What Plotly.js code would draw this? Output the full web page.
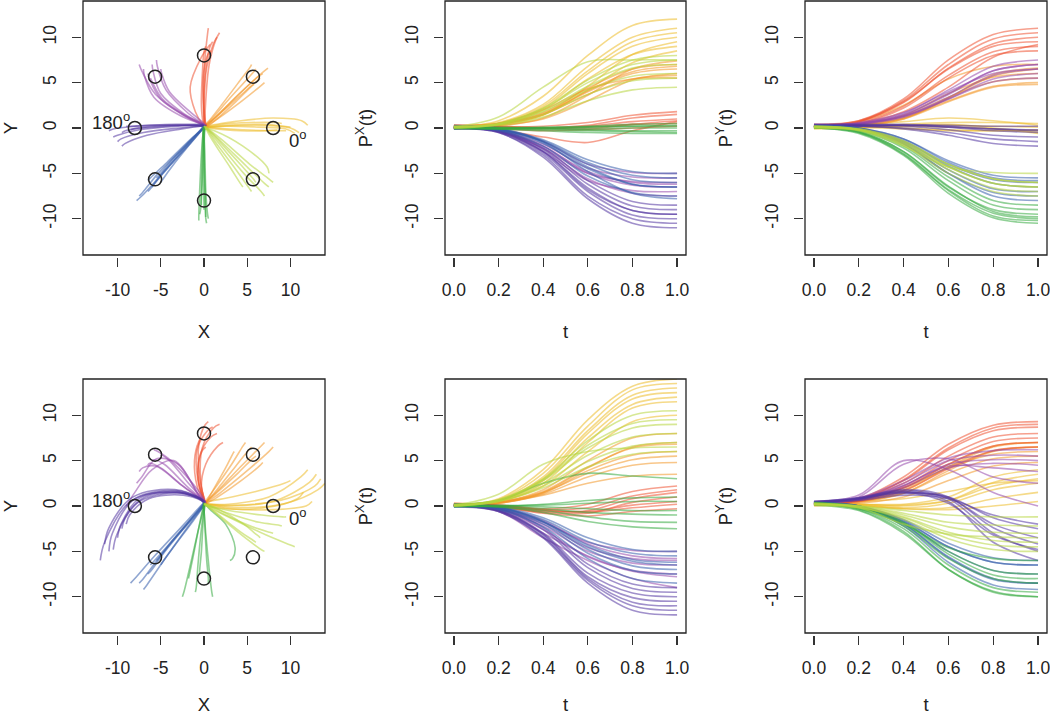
<!DOCTYPE html>
<html>
<head>
<meta charset="utf-8">
<script src="https://cdn.plot.ly/plotly-3.0.1.min.js"></script>
<style>html,body{margin:0;padding:0;background:#fff;}#chart{width:1050px;height:715px;}</style>
</head>
<body>
<div id="chart"></div>
<script>
// ---------- data ----------
const tSamples = [0, 0.2, 0.4, 0.6, 0.8, 1.0];
const targetAngles = [0, 45, 90, 135, 180, 225, 270, 315];
const targetX = [8, 5.66, 0, -5.66, -8, -5.66, 0, 5.66];
const targetY = [0, 5.66, 8, 5.66, 0, -5.66, -8, -5.66];
const targetColors = ['236,188,40', '243,152,40', '238,82,50', '150,72,172', '82,52,160', '52,92,172', '52,170,64', '182,214,62'];
const xyTicks = [-10, -5, 0, 5, 10];
const tTicks = [0, 0.2, 0.4, 0.6, 0.8, 1.0];
const tTickLabels = ['0.0', '0.2', '0.4', '0.6', '0.8', '1.0'];

// top row: trajectories per target (Px and Py sampled at tSamples)
const top_000_px = [[0.1,0.8,3.5,8.0,11.3,12.0],[0.2,0.6,2.6,6.8,10.0,11.0],[0.0,0.4,2.2,6.0,9.0,10.0],[0.3,0.4,1.5,4.6,8.1,9.5],[-0.1,0.3,2.0,5.4,8.1,9.0],[0.2,0.3,1.4,4.2,7.2,8.5],[0.0,0.5,2.4,6.3,9.5,10.5]];
const top_000_py = [[0.2,0.3,0.7,1.1,0.8,0.3],[0.0,0.1,0.3,0.4,0.0,-0.5],[0.1,0.1,0.2,0.3,0.2,0.1],[0.3,0.2,0.0,-0.2,-0.3,-0.3],[0.0,0.1,0.4,0.6,0.6,0.5],[0.2,0.1,-0.1,-0.3,-0.3,-0.2],[-0.1,0.0,0.2,0.1,-0.1,-0.6]];
const top_045_px = [[0.1,0.4,1.5,4.0,6.0,6.5],[0.2,0.3,1.0,3.0,5.3,6.0],[0.0,0.4,1.7,4.4,6.5,7.0],[0.1,0.5,2.0,4.3,5.4,5.5],[0.2,0.5,1.6,4.1,6.2,6.8],[0.0,0.2,1.1,3.6,6.5,7.4],[0.3,0.5,1.5,3.7,5.4,5.8]];
const top_045_py = [[0.2,0.4,1.3,3.4,5.1,5.5],[0.3,0.4,1.1,3.3,5.7,6.5],[0.2,0.3,1.1,3.0,4.6,5.0],[0.3,0.7,2.5,5.4,6.8,7.0],[0.1,0.4,1.4,3.8,5.6,6.0],[0.2,0.3,1.0,3.3,5.9,6.6],[0.0,0.2,1.0,2.9,4.5,4.8]];
const top_090_px = [[0.0,0.0,-0.1,0.1,0.4,0.5],[0.1,0.0,0.0,0.3,1.1,1.5],[0.2,0.1,0.0,0.2,0.7,1.0],[0.0,-0.1,-0.3,-0.2,0.0,0.2],[0.1,0.1,0.2,0.6,1.4,1.8],[0.3,0.2,0.0,-0.1,0.4,0.8],[0.1,-0.2,-1.0,-1.6,-0.3,0.7]];
const top_090_py = [[0.3,0.8,3.2,7.5,10.3,11.0],[0.2,0.7,2.8,6.6,9.3,10.0],[0.4,0.8,2.9,6.5,9.0,9.5],[0.3,0.6,2.4,5.8,8.4,9.0],[0.1,0.7,3.0,7.0,9.8,10.5],[0.2,0.5,2.2,5.5,8.0,8.5],[0.3,0.5,1.8,4.5,7.8,9.2]];
const top_135_px = [[0.0,-0.3,-2.2,-5.0,-5.9,-6.0],[0.2,-0.2,-1.8,-4.4,-5.4,-5.5],[0.0,-0.4,-2.6,-5.8,-6.9,-7.0],[-0.1,-0.3,-2.0,-5.0,-6.3,-6.5],[0.1,-0.1,-1.5,-4.0,-4.9,-5.0],[0.0,-0.3,-2.3,-5.6,-7.2,-7.5],[0.1,-0.2,-2.0,-4.8,-6.0,-6.2]];
const top_135_py = [[0.3,0.5,1.5,3.8,6.3,7.0],[0.2,0.5,1.6,4.2,6.8,7.5],[0.4,0.5,1.3,3.4,5.8,6.5],[0.2,0.4,1.2,3.2,5.4,6.0],[0.3,0.6,1.7,4.0,6.0,6.5],[0.1,0.4,1.4,3.7,6.3,7.0],[0.3,0.5,1.3,3.2,5.1,5.5]];
const top_180_px = [[0.0,-0.5,-3.0,-7.5,-10.0,-10.5],[0.2,-0.3,-2.6,-6.8,-9.1,-9.5],[-0.1,-0.5,-3.2,-7.8,-10.5,-11.0],[0.1,-0.3,-2.4,-6.2,-8.6,-9.0],[0.0,-0.4,-2.8,-7.0,-9.6,-10.0],[0.3,-0.2,-2.2,-5.8,-8.1,-8.5],[0.0,-0.4,-2.6,-6.6,-9.1,-9.5]];
const top_180_py = [[0.3,0.3,0.2,-0.2,-0.8,-1.0],[0.2,0.3,0.3,0.1,-0.3,-0.5],[0.4,0.4,0.4,0.2,-0.1,-0.3],[0.1,0.2,0.3,0.3,0.2,0.2],[0.2,0.2,0.0,-0.5,-1.2,-1.5],[0.3,0.3,0.3,0.1,-0.1,-0.2],[0.2,0.2,-0.1,-0.8,-1.7,-2.0]];
const top_225_px = [[0.0,-0.2,-1.4,-3.8,-5.2,-5.5],[0.2,-0.1,-1.5,-4.0,-5.7,-6.0],[-0.1,-0.3,-2.0,-5.3,-7.1,-7.5],[0.0,-0.2,-1.6,-4.8,-7.2,-7.8],[0.1,-0.1,-1.3,-3.5,-4.8,-5.0],[0.0,-0.2,-1.7,-4.5,-6.2,-6.5],[0.2,0.0,-1.5,-4.3,-6.2,-6.5]];
const top_225_py = [[0.2,0.0,-1.2,-3.6,-5.2,-5.5],[0.1,-0.1,-1.5,-4.2,-6.1,-6.5],[0.2,-0.1,-1.8,-5.0,-7.1,-7.5],[0.0,-0.2,-1.7,-5.0,-7.5,-8.0],[0.3,0.0,-1.4,-4.0,-5.7,-6.0],[0.1,-0.1,-1.6,-4.6,-6.7,-7.0],[0.2,0.0,-1.2,-3.8,-5.5,-5.8]];
const top_270_px = [[0.1,0.0,0.0,0.1,0.2,0.3],[0.0,-0.1,-0.2,-0.3,-0.4,-0.5],[0.2,0.1,0.0,-0.1,0.0,0.0],[0.0,0.0,0.1,0.2,0.4,0.5],[0.1,0.0,-0.1,-0.2,-0.3,-0.3],[-0.1,-0.1,0.0,0.1,0.2,0.2],[0.0,-0.1,-0.3,-0.5,-0.6,-0.6]];
const top_270_py = [[0.0,-0.6,-3.0,-7.2,-9.9,-10.5],[0.2,-0.4,-2.6,-6.5,-9.0,-9.5],[0.1,-0.3,-2.2,-5.8,-8.5,-9.0],[0.0,-0.5,-2.8,-6.8,-9.4,-10.0],[0.2,-0.2,-2.0,-5.4,-8.0,-8.5],[0.1,-0.4,-2.6,-6.4,-9.2,-9.8],[0.0,-0.5,-2.9,-6.9,-9.7,-10.2]];
const top_315_px = [[0.0,0.4,1.8,4.2,5.7,6.0],[0.1,0.5,2.1,5.0,7.0,7.5],[0.2,0.4,1.5,3.7,5.2,5.5],[0.0,0.4,1.9,4.6,6.6,7.0],[0.1,1.2,4.5,7.3,7.5,7.5],[0.1,0.5,2.2,5.3,7.5,8.0],[0.2,0.3,1.2,3.0,4.2,4.5]];
const top_315_py = [[0.2,-0.1,-1.5,-4.0,-5.6,-6.0],[0.0,-0.2,-1.6,-4.3,-6.1,-6.5],[0.1,-0.2,-1.8,-4.6,-6.6,-7.0],[0.2,-0.2,-1.9,-5.0,-7.0,-7.5],[0.0,-0.3,-2.0,-4.3,-4.9,-5.0],[0.2,-0.1,-1.4,-4.0,-5.6,-6.0],[0.1,-0.2,-1.7,-4.3,-6.1,-6.5]];

// bottom row
const bot_000_px = [[0.0,0.8,4.0,9.5,13.2,14.0],[0.2,0.6,3.2,8.3,12.2,13.0],[0.1,0.5,2.8,7.5,11.2,12.0],[0.3,0.5,2.5,7.0,10.8,11.5],[0.0,0.6,3.0,8.0,11.8,12.5],[0.2,0.5,2.2,6.0,9.3,10.0],[0.1,0.7,3.6,8.8,12.8,13.5]];
const bot_000_py = [[0.2,0.1,-0.2,0.3,1.8,2.5],[0.3,0.2,0.0,0.6,2.6,3.5],[0.2,0.2,0.2,1.0,3.2,4.0],[0.1,0.0,-0.3,-0.2,0.8,1.5],[0.2,0.1,-0.3,-0.4,0.0,0.5],[0.4,0.5,0.8,1.6,2.5,2.8],[0.3,0.2,0.1,0.6,2.2,3.0]];
const bot_045_px = [[0.1,0.4,1.5,3.6,5.1,5.5],[0.0,0.3,1.5,4.2,6.5,7.0],[0.2,0.4,1.8,5.0,7.5,8.0],[0.0,0.3,1.4,3.9,5.6,6.0],[0.2,0.4,1.2,2.5,3.3,3.5],[0.1,0.4,1.6,4.3,6.4,6.8],[0.0,0.3,1.3,3.2,4.5,4.8]];
const bot_045_py = [[0.3,0.6,1.8,4.3,6.1,6.5],[0.2,0.5,1.6,4.3,6.5,7.0],[0.1,0.4,1.4,3.9,6.0,6.5],[0.3,0.5,1.4,3.6,5.2,5.5],[0.2,0.6,2.0,4.2,5.7,6.0],[0.0,0.3,1.0,2.8,4.4,4.8],[0.3,0.7,2.0,4.6,6.6,7.0]];
const bot_090_px = [[0.1,0.0,-0.5,-0.6,0.1,0.5],[0.2,0.0,-0.6,-0.5,0.8,1.5],[0.0,0.1,-0.3,0.2,1.6,2.2],[0.1,-0.1,-0.8,-1.1,-0.6,-0.3],[0.0,-0.1,-0.7,-0.8,0.4,1.0],[0.3,0.1,-0.4,-0.7,-0.2,0.2],[0.1,0.0,-0.4,-0.2,1.1,1.8]];
const bot_090_py = [[0.3,0.8,3.2,6.8,8.9,9.3],[0.4,0.7,2.5,5.5,7.6,8.0],[0.3,0.6,2.0,4.6,6.6,7.0],[0.2,0.6,2.2,5.0,7.1,7.5],[0.4,0.8,2.8,6.2,8.3,8.7],[0.3,0.5,1.7,4.1,6.1,6.5],[0.2,0.7,2.9,6.4,8.6,9.0]];
const bot_135_px = [[0.0,-0.6,-3.5,-6.0,-8.0,-9.0],[0.1,-0.5,-3.0,-5.5,-7.2,-7.8],[0.0,-0.3,-2.0,-4.6,-5.8,-6.0],[0.2,-0.2,-2.2,-5.0,-6.3,-6.5],[0.1,-0.2,-1.8,-4.0,-4.9,-5.0],[0.0,-0.4,-2.6,-5.6,-7.1,-7.5],[0.2,-0.1,-1.6,-4.2,-5.5,-5.8]];
const bot_135_py = [[0.5,1.2,5.0,4.0,1.5,0.0],[0.4,1.0,4.6,5.2,3.2,2.5],[0.5,0.8,2.2,4.6,5.1,5.0],[0.4,0.7,2.0,4.2,4.7,4.5],[0.3,0.8,2.5,5.0,5.6,5.5],[0.4,0.8,2.3,4.4,4.2,3.8],[0.3,0.9,2.8,5.3,6.1,6.2]];
const bot_180_px = [[0.0,-0.6,-3.5,-8.5,-11.5,-12.0],[0.1,-0.5,-3.2,-8.0,-10.6,-11.0],[0.0,-0.4,-3.0,-7.4,-9.6,-10.0],[0.2,-0.3,-2.6,-6.8,-9.1,-9.5],[-0.1,-0.6,-3.4,-8.2,-11.0,-11.5],[0.1,-0.3,-2.4,-6.4,-8.6,-9.0],[0.0,-0.5,-3.1,-7.8,-10.1,-10.5]];
const bot_180_py = [[0.4,0.8,1.6,0.5,-4.0,-6.0],[0.5,0.9,1.7,0.8,-3.0,-5.0],[0.3,0.8,1.5,0.9,-2.0,-3.5],[0.4,0.7,1.4,1.0,-1.3,-2.5],[0.4,0.9,1.8,1.0,-2.4,-4.2],[0.3,0.6,1.2,0.8,-1.0,-2.0],[0.5,0.8,1.5,0.3,-3.2,-4.8]];
const bot_225_px = [[0.0,-0.2,-1.5,-3.9,-5.2,-5.5],[0.2,-0.1,-1.7,-4.5,-6.1,-6.5],[0.0,-0.3,-2.0,-5.2,-7.1,-7.5],[-0.1,-0.4,-2.3,-5.8,-8.0,-8.5],[0.1,-0.1,-1.3,-3.5,-4.8,-5.0],[0.0,-0.2,-1.8,-4.8,-6.6,-7.0],[0.1,-0.2,-1.7,-4.3,-5.9,-6.2]];
const bot_225_py = [[0.3,0.0,-1.5,-4.1,-5.7,-6.0],[0.2,-0.1,-1.8,-5.0,-7.1,-7.5],[0.4,0.0,-2.0,-5.7,-8.1,-8.5],[0.3,0.0,-2.0,-5.6,-8.0,-8.5],[0.2,-0.1,-1.7,-4.5,-6.2,-6.5],[0.3,-0.1,-2.2,-6.2,-8.7,-9.2],[0.3,0.0,-1.6,-4.5,-6.2,-6.5]];
const bot_270_px = [[0.0,-0.1,-0.7,-1.7,-2.3,-2.5],[0.1,0.0,-0.3,-0.7,-0.9,-1.0],[0.0,0.0,0.1,0.3,0.5,0.5],[0.2,0.6,2.5,3.6,3.3,3.0],[0.0,-0.1,-0.5,-1.2,-1.7,-1.8],[-0.1,0.0,0.2,0.6,0.9,1.0],[0.2,0.1,-0.1,-0.3,-0.5,-0.5]];
const bot_270_py = [[0.3,-0.4,-2.8,-7.0,-9.4,-10.0],[0.2,-0.3,-2.5,-6.5,-9.0,-9.5],[0.3,-0.2,-2.2,-5.8,-8.0,-8.5],[0.2,-0.3,-2.0,-4.6,-5.8,-6.0],[0.4,-0.1,-1.9,-5.3,-7.6,-8.0],[0.1,-0.5,-3.0,-7.0,-9.5,-10.0],[0.3,-0.1,-1.8,-5.0,-7.1,-7.5]];
const bot_315_px = [[0.0,0.5,2.0,4.3,5.7,6.0],[0.1,0.6,2.5,5.6,7.6,8.0],[0.0,0.6,2.8,6.4,8.6,9.0],[0.2,0.7,3.0,7.2,10.0,10.5],[0.0,0.5,2.2,4.9,6.6,7.0],[0.1,0.7,2.9,6.7,9.1,9.5],[0.1,1.3,4.6,6.0,6.4,6.5]];
const bot_315_py = [[0.2,-0.1,-1.2,-2.9,-3.8,-4.0],[0.3,0.0,-1.0,-2.3,-2.9,-3.0],[0.2,0.0,-0.8,-1.8,-2.1,-2.2],[0.1,-0.2,-1.3,-3.2,-4.3,-4.5],[0.3,-0.1,-1.5,-3.6,-4.8,-5.0],[0.2,0.0,-0.5,-1.0,-1.2,-1.2],[0.2,-0.2,-2.0,-3.1,-3.4,-3.5]];

const topRowPx = [top_000_px, top_045_px, top_090_px, top_135_px, top_180_px, top_225_px, top_270_px, top_315_px];
const topRowPy = [top_000_py, top_045_py, top_090_py, top_135_py, top_180_py, top_225_py, top_270_py, top_315_py];
const botRowPx = [bot_000_px, bot_045_px, bot_090_px, bot_135_px, bot_180_px, bot_225_px, bot_270_px, bot_315_px];
const botRowPy = [bot_000_py, bot_045_py, bot_090_py, bot_135_py, bot_180_py, bot_225_py, bot_270_py, bot_315_py];

// ---------- build ----------
const traces = [];
function addRow(pxSets, pySets, axIdx) {
  const [a1, a2, a3] = axIdx;
  for (let k = 0; k < targetAngles.length; k++) {
    const col = 'rgba(' + targetColors[k] + ',0.55)';
    const pxs = pxSets[k], pys = pySets[k];
    for (let i = 0; i < pxs.length; i++) {
      const ln = {color: col, width: 1.6, shape: 'spline', smoothing: 1};
      traces.push({type: 'scatter', mode: 'lines', x: pxs[i], y: pys[i], xaxis: 'x' + a1, yaxis: 'y' + a1, line: ln, hoverinfo: 'skip', showlegend: false});
      traces.push({type: 'scatter', mode: 'lines', x: tSamples, y: pxs[i], xaxis: 'x' + a2, yaxis: 'y' + a2, line: ln, hoverinfo: 'skip', showlegend: false});
      traces.push({type: 'scatter', mode: 'lines', x: tSamples, y: pys[i], xaxis: 'x' + a3, yaxis: 'y' + a3, line: ln, hoverinfo: 'skip', showlegend: false});
    }
  }
  traces.push({type: 'scatter', mode: 'markers', x: targetX, y: targetY, xaxis: 'x' + a1, yaxis: 'y' + a1,
    marker: {symbol: 'circle-open', size: 13, color: '#222', line: {width: 1.5, color: '#222'}}, hoverinfo: 'skip', showlegend: false});
}
addRow(topRowPx, topRowPy, ['', '2', '3']);
addRow(botRowPx, botRowPy, ['4', '5', '6']);

const W = 1050, H = 715;
const colX = [[83, 325], [445, 686], [805, 1047]];
const rowY = [[1, 255], [379, 633]];
const fam = 'Liberation Sans, Arial, sans-serif';
const tickFont = {family: fam, size: 17.5, color: '#222'};
const titleFont = {family: fam, size: 18.5, color: '#222'};
const layout = {width: W, height: H, margin: {l: 0, r: 0, t: 0, b: 0}, paper_bgcolor: '#fff', plot_bgcolor: '#fff',
  font: tickFont, showlegend: false, shapes: [], annotations: []};

const yTitles = ['Y', 'P<sup>X</sup>(t)', 'P<sup>Y</sup>(t)'];
const xTitles = ['X', 't', 't'];
for (let r = 0; r < 2; r++) {
  for (let c = 0; c < 3; c++) {
    const n = r * 3 + c + 1;
    const xs = n === 1 ? '' : String(n);
    const xd = [colX[c][0] / W, colX[c][1] / W];
    const yd = [1 - rowY[r][1] / H, 1 - rowY[r][0] / H];
    const isXY = c === 0;
    layout['xaxis' + xs] = {domain: xd, anchor: 'free', position: 1 - (rowY[r][1] + 2) / H,
      range: isXY ? [-14, 14] : [-0.04, 1.04], tickvals: isXY ? xyTicks : tTicks, ticktext: isXY ? xyTicks.map(String) : tTickLabels,
      ticks: 'outside', ticklen: 9, tickwidth: 1.2, tickcolor: '#333', showline: false, showgrid: false, zeroline: false,
      tickfont: tickFont, ticklabelstandoff: 8, ticklabeloverflow: 'allow',
      title: {text: xTitles[c], font: titleFont, standoff: 26}};
    layout['yaxis' + xs] = {domain: yd, anchor: 'free', position: (colX[c][0] - 2) / W,
      range: [-14, 14], tickvals: xyTicks, ticktext: xyTicks.map(String), tickangle: -90,
      ticks: 'outside', ticklen: 9, tickwidth: 1.2, tickcolor: '#333', showline: false, showgrid: false, zeroline: false,
      tickfont: tickFont, ticklabelstandoff: 9, ticklabeloverflow: 'allow',
      title: {text: yTitles[c], font: titleFont, standoff: 23}};
    layout.shapes.push({type: 'rect', xref: 'x' + xs + ' domain', yref: 'y' + xs + ' domain', x0: 0, x1: 1, y0: 0, y1: 1,
      line: {color: '#222', width: 1.3}, fillcolor: 'rgba(0,0,0,0)', layer: 'above'});
  }
  const ax = r === 0 ? '' : '4';
  layout.annotations.push({xref: 'x' + ax, yref: 'y' + ax, x: -10.8, y: 0.8, text: '180<sup>o</sup>', showarrow: false,
    font: titleFont});
  layout.annotations.push({xref: 'x' + ax, yref: 'y' + ax, x: 10.9, y: -1.2, text: '0<sup>o</sup>', showarrow: false,
    font: titleFont});
}

Plotly.newPlot('chart', traces, layout, {staticPlot: true, displayModeBar: false});
</script>
</body>
</html>
